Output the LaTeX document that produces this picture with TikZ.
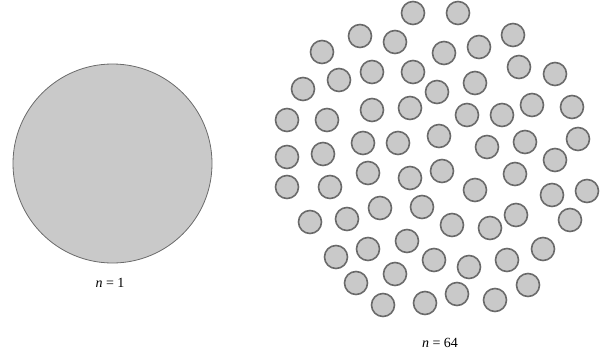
\documentclass[tikz,border=0pt]{standalone}
\usepackage{fontspec}
\setmainfont{Liberation Serif}
\usepackage{xcolor}
\usepackage{tikz}
\usetikzlibrary{positioning}

\definecolor{corefill}{HTML}{C9C9C9}
\definecolor{coreedge}{HTML}{6A6A6A}

\begin{document}
\begin{tikzpicture}[x=1pt, y=-1pt, font=\fontsize{14}{16}\selectfont,
    bigcore/.style={fill=corefill, draw=coreedge, line width=0.8pt},
    smallcore/.style={fill=corefill, draw=coreedge, line width=1.6pt}]
  \useasboundingbox (0,0) rectangle (602,356);

  % Single large bundle
  \draw[bigcore] (112.5,163.5) circle (99.5);
  \node (lblone) at (110,283) {\textit{n} = 1};

  % 64 small bundles
  \foreach \x/\y in {413/13, 458/13,
      360/36, 395/42, 322/52, 444/53, 479/47, 513/35,
      372/72, 413/72, 339/80, 303/89, 437/92, 475/83, 519/67, 555/74,
      372/110, 410/108, 287/120, 327/120, 467/115, 502/115, 532/105, 572/107,
      363/143, 398/143, 439/136, 487/147, 525/142, 578/139, 555/160, 287/157, 323/154,
      368/173, 410/178, 442/171, 515/174, 475/190, 552/195, 587/191, 287/187, 330/187,
      380/208, 422/207, 310/222, 347/219, 516/215, 570/220, 452/225, 490/228,
      336/257, 368/249, 407/241, 434/260, 469/267, 507/260, 543/249,
      356/283, 395/274, 383/305, 425/303, 457/294, 495/300, 528/285}
    \draw[smallcore] (\x,\y) circle (11.5);
  \node (lblsixtyfour) at (440,343) {\textit{n} = 64};
\end{tikzpicture}
\end{document}
